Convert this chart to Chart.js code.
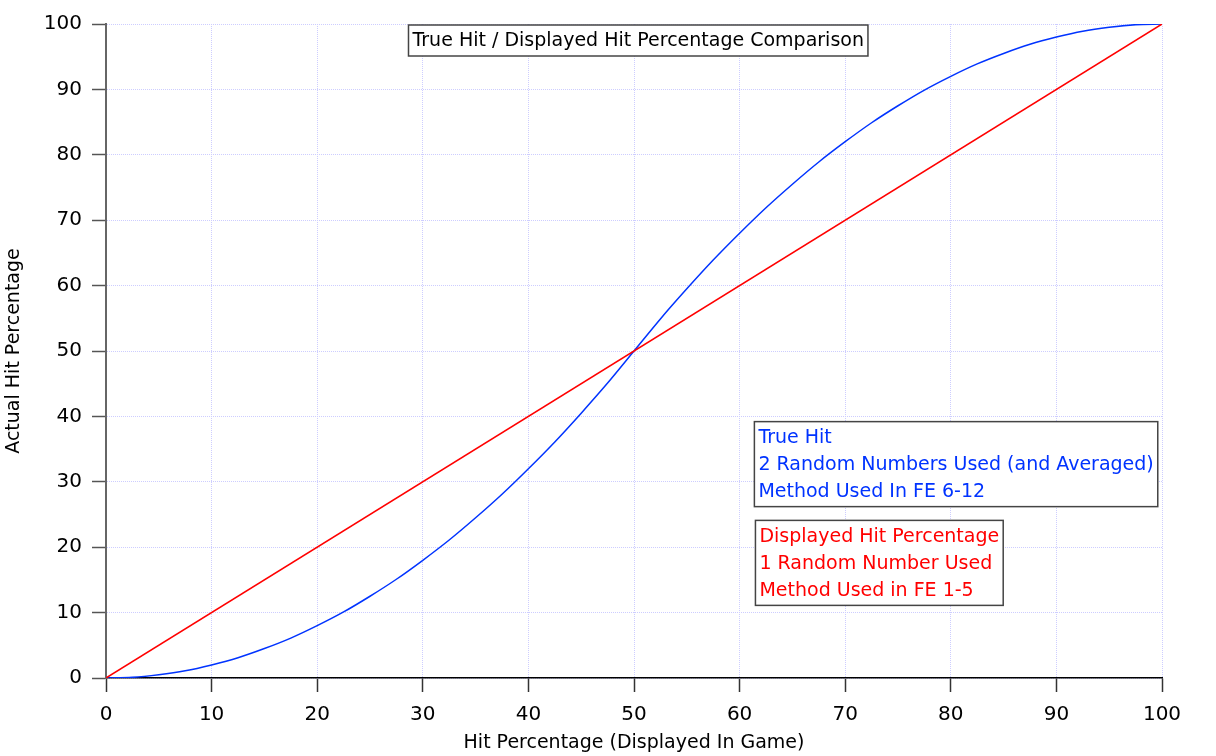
<!DOCTYPE html>
<html>
<head>
<meta charset="utf-8">
<script src="https://cdn.jsdelivr.net/npm/chart.js@4/dist/chart.umd.min.js"></script>
<style>
  html, body { margin: 0; padding: 0; background: #fff; }
  #wrap { width: 1216px; height: 756px; position: relative; }
</style>
</head>
<body>
<div id="wrap"><canvas id="hitChart"></canvas></div>
<script>
// displayed hit values along the x axis
var displayedHit = [0, 2.5, 5, 7.5, 10, 12.5, 15, 17.5, 20, 22.5, 25, 27.5, 30, 32.5, 35, 37.5, 40, 42.5, 45, 47.5,
  50, 52.5, 55, 57.5, 60, 62.5, 65, 67.5, 70, 72.5, 75, 77.5, 80, 82.5, 85, 87.5, 90, 92.5, 95, 97.5, 100];
// true hit (2 RN)
var trueHit = [0, 0.1, 0.5, 1.1, 2, 3.1, 4.5, 6.1, 8, 10.1, 12.5, 15.1, 18, 21.1, 24.5, 28.1, 32, 36.1, 40.5, 45.1,
  50, 54.9, 59.5, 63.9, 68, 71.9, 75.5, 78.9, 82, 84.9, 87.5, 89.9, 92, 93.9, 95.5, 96.9, 98, 98.9, 99.5, 99.9, 100];
// displayed hit (1 RN), the red diagonal
var oneRnX = [0, 100];
var oneRnHit = [0, 100];

var axisTicks = [0, 10, 20, 30, 40, 50, 60, 70, 80, 90, 100];

var chartTitle = 'True Hit / Displayed Hit Percentage Comparison';
var blueNote = ['True Hit', '2 Random Numbers Used (and Averaged)', 'Method Used In FE 6-12'];
var redNote = ['Displayed Hit Percentage', '1 Random Number Used', 'Method Used in FE 1-5'];

var BLUE = 'rgb(0, 51, 255)';
var RED = 'rgb(255, 0, 0)';
var GRID = 'rgb(205, 205, 255)';
var FONT = '"DejaVu Sans", Verdana, sans-serif';

function toPoints(xs, ys) {
  var pts = [];
  for (var i = 0; i < xs.length; i++) {
    pts.push({ x: xs[i], y: ys[i] });
  }
  return pts;
}

// draws a boxed block of text lines, white behind it
function drawNoteBox(ctx, left, top, lines, color, size, lineGap) {
  ctx.save();
  ctx.font = size + 'px ' + FONT;
  var w = 0;
  for (var i = 0; i < lines.length; i++) {
    w = Math.max(w, ctx.measureText(lines[i]).width);
  }
  var padX = 3;
  var boxW = w + padX * 2 + 2;
  var boxH = lineGap * lines.length + 4;
  ctx.fillStyle = '#fff';
  ctx.fillRect(left, top, boxW, boxH);
  ctx.strokeStyle = '#444';
  ctx.lineWidth = 1.5;
  ctx.strokeRect(left, top, boxW, boxH);
  ctx.fillStyle = color;
  ctx.textBaseline = 'middle';
  ctx.textAlign = 'left';
  for (var j = 0; j < lines.length; j++) {
    ctx.fillText(lines[j], left + padX + 1, top + 2 + lineGap * j + lineGap / 2 + 1);
  }
  ctx.restore();
}

var notesPlugin = {
  id: 'notes',
  afterDraw: function(chart) {
    var ctx = chart.ctx;
    var xs = chart.scales.x;
    var ys = chart.scales.y;
    // title box sits at the top of the plot, centred-ish
    ctx.save();
    ctx.font = '19px ' + FONT;
    var tw = ctx.measureText(chartTitle).width;
    ctx.restore();
    var tLeft = xs.getPixelForValue(50.4) - (tw + 8) / 2;
    drawNoteBox(ctx, tLeft, ys.getPixelForValue(100) + 1, [chartTitle], '#000', 19, 27);
    drawNoteBox(ctx, xs.getPixelForValue(61.4), ys.getPixelForValue(39.2), blueNote, BLUE, 19, 27);
    drawNoteBox(ctx, xs.getPixelForValue(61.5), ys.getPixelForValue(24.1), redNote, RED, 19, 27);
  }
};

var ctx = document.getElementById('hitChart').getContext('2d');

var hitChart = new Chart(ctx, {
  type: 'line',
  data: {
    datasets: [
      {
        label: 'Displayed Hit',
        data: toPoints(oneRnX, oneRnHit),
        borderColor: RED,
        borderWidth: 1.5,
        pointRadius: 0,
        fill: false
      },
      {
        label: 'True Hit',
        data: toPoints(displayedHit, trueHit),
        borderColor: BLUE,
        borderWidth: 1.5,
        pointRadius: 0,
        cubicInterpolationMode: 'monotone',
        fill: false
      }
    ]
  },
  options: {
    responsive: true,
    maintainAspectRatio: false,
    animation: false,
    layout: { padding: { top: 24, right: 54, left: 0, bottom: 0 } },
    plugins: {
      legend: { display: false },
      tooltip: { enabled: false }
    },
    scales: {
      x: {
        type: 'linear',
        min: 0,
        max: 100,
        afterBuildTicks: function(scale) {
          scale.ticks = axisTicks.map(function(v) { return { value: v }; });
        },
        afterFit: function(scale) { scale.height = 78; },
        ticks: { color: '#000', padding: 11, font: { family: FONT, size: 20 }, maxRotation: 0 },
        grid: {
          color: GRID,
          lineWidth: 1,
          tickLength: 14,
          tickColor: '#333',
          tickWidth: 1.5
        },
        border: { display: true, color: '#000', width: 1.5, dash: [1, 1] },
        title: {
          display: true,
          text: 'Hit Percentage (Displayed In Game)',
          color: '#000',
          font: { family: FONT, size: 19 },
          padding: { top: 0, bottom: 2 }
        }
      },
      y: {
        type: 'linear',
        min: 0,
        max: 100,
        afterBuildTicks: function(scale) {
          scale.ticks = axisTicks.map(function(v) { return { value: v }; });
        },
        afterFit: function(scale) { scale.width = 106; },
        ticks: { color: '#000', padding: 10, font: { family: FONT, size: 20 } },
        grid: {
          color: GRID,
          lineWidth: 1,
          tickLength: 14,
          tickColor: '#555',
          tickWidth: 1.5
        },
        border: { display: true, color: '#666', width: 2, dash: [1, 1] },
        title: {
          display: true,
          text: 'Actual Hit Percentage',
          color: '#000',
          font: { family: FONT, size: 19 },
          padding: { top: 3, bottom: 0 }
        }
      }
    }
  },
  plugins: [notesPlugin]
});
</script>
</body>
</html>
